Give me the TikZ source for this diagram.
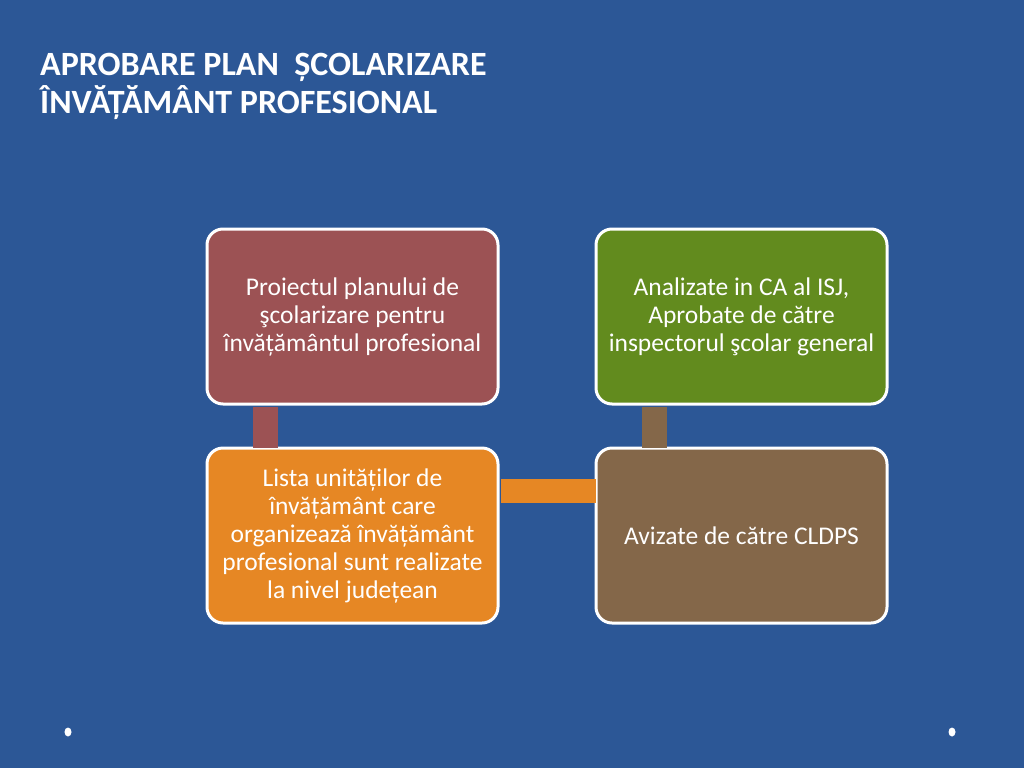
\documentclass[tikz,border=0pt]{standalone}
\usepackage{fontspec}
\setmainfont{Carlito}
\definecolor{bg}{RGB}{44,87,150}
\definecolor{cred}{RGB}{156,82,84}
\definecolor{cgreen}{RGB}{98,139,30}
\definecolor{corange}{RGB}{230,135,36}
\definecolor{cbrown}{RGB}{132,103,73}
\begin{document}
\begin{tikzpicture}[x=1pt,y=-1pt,
  box/.style={draw=white,line width=3pt,rounded corners=16pt,minimum width=291pt,minimum height=175pt,
    text=white,align=center,font=\fontsize{25.5}{28}\selectfont,inner sep=0pt},
  title/.style={text=white,font=\fontsize{34}{38}\selectfont\bfseries,inner sep=0pt,anchor=base west}]
\fill[bg] (0,0) rectangle (1024,768);
\useasboundingbox (0,0) rectangle (1024,768);
\node[title] (t1) at (40,75) {APROBARE PLAN\ \ ȘCOLARIZARE};
\node[title] (t2) at (40,113) {ÎNVĂȚĂMÂNT PROFESIONAL};
\coordinate (c1a) at (265.5,400);
\coordinate (c2a) at (654,400);
\coordinate (c3a) at (495,491);
\node[box,fill=cred] (b1) at (352.5,316.5) {Proiectul planului de\\şcolarizare pentru\\învățământul profesional};
\node[box,fill=cgreen] (b2) at (741.5,316.5) {Analizate in CA al ISJ,\\Aprobate de către\\inspectorul şcolar general};
\node[box,fill=corange] (b3) at (352.5,535.5) {Lista unităților de\\învățământ care\\organizează învățământ\\profesional sunt realizate\\la nivel județean};
\node[box,fill=cbrown] (b4) at (741.5,535.5) {Avizate de către CLDPS};
\fill[cred] ([xshift=-12.5pt]b1.south -| c1a) ++(0,1.5) rectangle ++(25,41);
\fill[cbrown] ([xshift=-12.5pt]b2.south -| c2a) ++(0,1.5) rectangle ++(25,41);
\fill[corange] (b3.east |- c3a) ++(1.5,-12) rectangle ++(95,24);
\fill[white] (68,732) ellipse (3.5 and 4.5);
\fill[white] (952,732) ellipse (3.5 and 4.5);
\end{tikzpicture}
\end{document}
